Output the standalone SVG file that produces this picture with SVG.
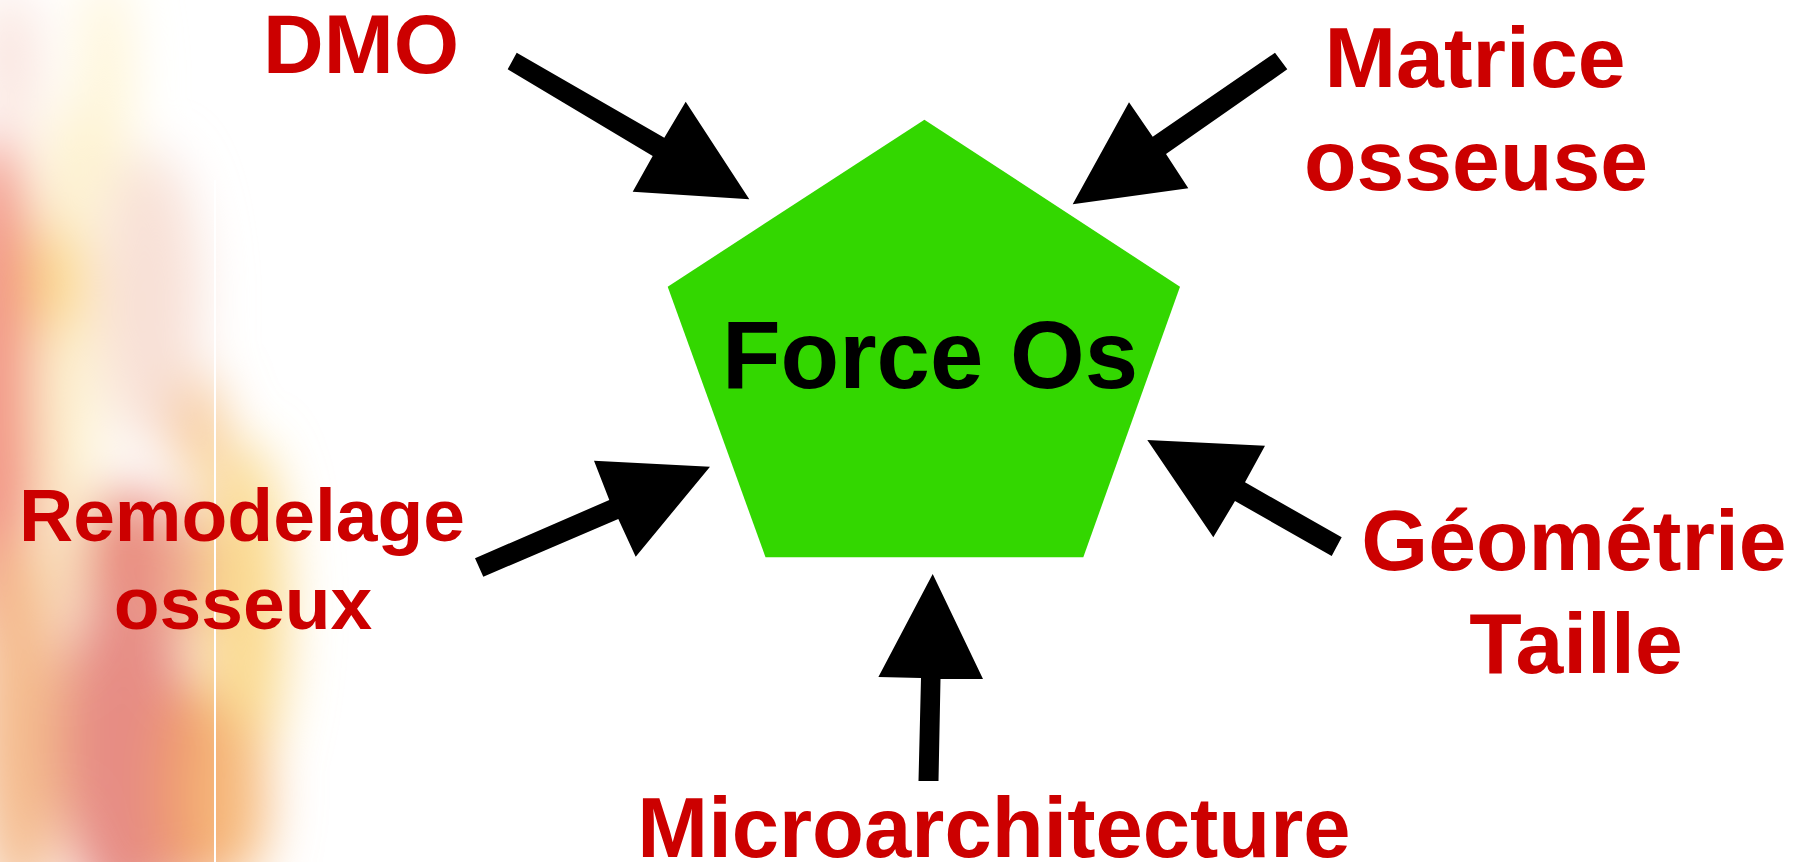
<svg xmlns="http://www.w3.org/2000/svg" width="1805" height="862" viewBox="0 0 1805 862">
<defs>
<style>
.lbl{font-family:"Liberation Sans",Arial,sans-serif;font-weight:bold;fill:#CC0000;text-anchor:middle}
.main{font-family:"Liberation Sans",Arial,sans-serif;font-weight:bold;fill:#000;text-anchor:middle;font-size:96px}
.arrow{fill:#000}
</style>
<filter id="blur" x="-50%" y="-50%" width="200%" height="200%"><feGaussianBlur stdDeviation="26"/></filter>
<clipPath id="bgclip"><rect x="0" y="0" width="380" height="862"/></clipPath>
</defs>
<rect width="1805" height="862" fill="#fff"/>
<g id="background" clip-path="url(#bgclip)">
<g filter="url(#blur)">
<ellipse cx="10" cy="60" rx="25" ry="70" fill="#F9E0D8"/>
<ellipse cx="105" cy="90" rx="25" ry="120" fill="#FEF4D4"/>
<ellipse cx="-5" cy="400" rx="45" ry="270" fill="#F29484"/>
<ellipse cx="65" cy="360" rx="32" ry="260" fill="#FDF0CC"/>
<ellipse cx="58" cy="280" rx="28" ry="55" fill="#FBDC90"/>
<ellipse cx="150" cy="300" rx="50" ry="150" fill="#F8E0D6"/>
<ellipse cx="200" cy="430" rx="22" ry="55" fill="#F6C488"/>
<ellipse cx="20" cy="720" rx="45" ry="190" fill="#F4BC8E"/>
<ellipse cx="125" cy="570" rx="42" ry="85" fill="#E8867C"/>
<ellipse cx="125" cy="750" rx="65" ry="170" fill="#E68C84"/>
<ellipse cx="190" cy="790" rx="32" ry="110" fill="#F09C6C"/>
<ellipse cx="180" cy="570" rx="28" ry="70" fill="#EEA892"/>
<ellipse cx="245" cy="610" rx="42" ry="170" fill="#FADA90"/>
<ellipse cx="232" cy="800" rx="36" ry="85" fill="#F6BA7C"/>
</g>
<rect x="214" y="180" width="2" height="682" fill="#fff"/>
</g>
<g id="connectors">
<polygon class="arrow" points="516.7,52.7 507.7,69.3 652.7,156 632.7,191.7 749.3,199.3 685.7,101.7 664.3,137.7"/>
<polygon class="arrow" points="1275,52.7 1287.3,69.3 1166,154 1188.3,188.3 1072.7,204.3 1129,102.3 1152.7,136.7"/>
<polygon class="arrow" points="475,558.3 483.3,576.7 618.3,519 635.7,556.7 710,466.7 594,460.7 609.3,500"/>
<polygon class="arrow" points="918.5,781 938.5,781 940.5,679 983,679 932.7,574 878.4,677 921,678"/>
<polygon class="arrow" points="1341.7,537.3 1331.7,556 1235,501 1213.3,537.3 1147.3,440 1265,445.7 1245,482.3"/>
</g>
<g id="node-force">
<polygon points="924.4,119.7 1180,286.7 1083.3,557.2 765.5,557.2 667.7,286.7" fill="#33D700"/>
<text class="main" x="930" y="388">Force Os</text>
</g>
<g id="node-dmo"><text class="lbl" x="361" y="73" font-size="84">DMO</text></g>
<g id="node-matrice"><text class="lbl" font-size="86"><tspan x="1475" y="87">Matrice</tspan><tspan x="1476" y="190">osseuse</tspan></text></g>
<g id="node-remodelage"><text class="lbl" font-size="75"><tspan x="242" y="541">Remodelage</tspan><tspan x="243" y="629">osseux</tspan></text></g>
<g id="node-geometrie"><text class="lbl" font-size="86"><tspan x="1574" y="570">Géométrie</tspan><tspan x="1576" y="673">Taille</tspan></text></g>
<g id="node-micro"><text class="lbl" x="994" y="857" font-size="85">Microarchitecture</text></g>
</svg>
